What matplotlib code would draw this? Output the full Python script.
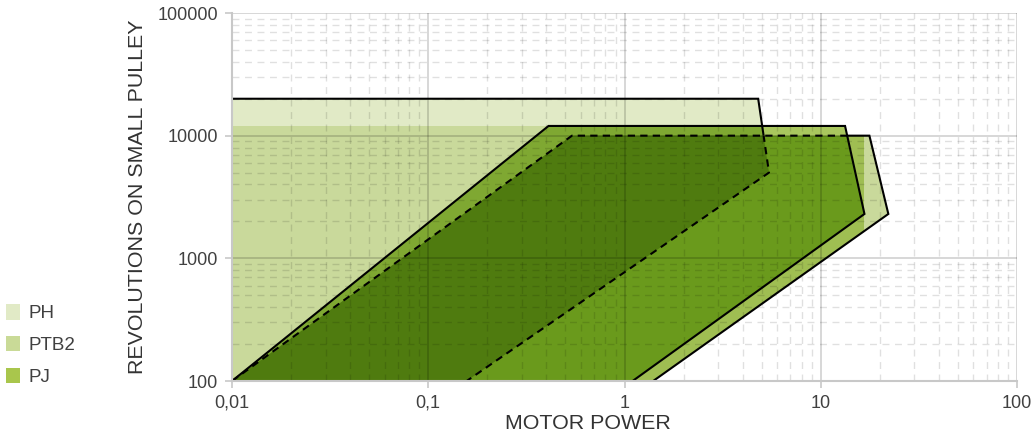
import matplotlib
matplotlib.use("Agg")
import matplotlib.pyplot as plt
import numpy as np
from matplotlib.patches import Polygon, Rectangle, Patch
from matplotlib.path import Path

# operating ranges (motor power, revolutions on small pulley)
ph_power = [0.01, 0.01, 4.8, 5.45, 0.157]
ph_rpm = [100, 20000, 20000, 5000, 100]
ptb2_power = [0.01, 0.54, 17.7, 22.1, 1.4]
ptb2_rpm = [100, 10000, 10000, 2300, 100]
pj_power = [0.01, 0.41, 13.3, 16.7, 1.1]
pj_rpm = [100, 12000, 12000, 2300, 100]

series = ["PH", "PTB2", "PJ"]
legend_colors = ["#e1eac6", "#c9da97", "#a9c64c"]

x_ticks = [0.01, 0.1, 1, 10, 100]
x_labels = ["0,01", "0,1", "1", "10", "100"]
y_ticks = [100, 1000, 10000, 100000]
y_labels = ["100", "1000", "10000", "100000"]

plt.rcParams["font.family"] = ["Liberation Sans", "DejaVu Sans"]

c_ph = "#e1eac6"
c_pale = "#c9d99b"
c_strip = "#9fbe52"
c_pj = "#a9c75e"
c_pj_ph = "#7fa832"
c_pj_ptb2 = "#6a9a1c"
c_dark = "#4f7b0f"


def poly(xs, ys):
    return np.column_stack([xs, ys])


def outside(xy):
    # big box with the polygon cut out (opposite winding)
    box = np.array([[1e-5, 1e-1], [1e5, 1e-1], [1e5, 1e8], [1e-5, 1e8], [1e-5, 1e-1]])
    lx, ly = np.log10(xy[:, 0]), np.log10(xy[:, 1])
    area = np.sum(lx * np.roll(ly, -1) - np.roll(lx, -1) * ly)
    p = xy if area < 0 else xy[::-1]
    p = np.vstack([p, p[:1]])
    verts = np.vstack([box, p])
    codes = ([Path.MOVETO] + [Path.LINETO] * 3 + [Path.CLOSEPOLY]
             + [Path.MOVETO] + [Path.LINETO] * (len(p) - 2) + [Path.CLOSEPOLY])
    return Path(verts, codes)


def main():
    fig = plt.figure(figsize=(10.32, 4.38), dpi=100)
    ax = fig.add_axes([232 / 1032, 1 - 381 / 438, 785 / 1032, 368 / 438])
    ax.set_xscale("log")
    ax.set_yscale("log")
    ax.set_xlim(0.01, 100)
    ax.set_ylim(100, 100000)

    ph = poly(ph_power, ph_rpm)
    ptb2 = poly(ptb2_power, ptb2_rpm)
    pj = poly(pj_power, pj_rpm)

    def fill(xy, color, clip=None):
        p = Polygon(xy, closed=True, facecolor=color, edgecolor="none", zorder=1)
        ax.add_patch(p)
        if clip is not None:
            p.set_clip_path(clip)
        return p

    bbox = Rectangle((min(pj_power), min(pj_rpm)), max(pj_power) - min(pj_power),
                     max(pj_rpm) - min(pj_rpm), transform=ax.transData)
    pj_clip = Polygon(pj, closed=True, transform=ax.transData)
    ptb2_clip = Polygon(ptb2, closed=True, transform=ax.transData)

    fill(ph, c_ph)
    fill(ph, c_pale, bbox)
    fill(ptb2, c_pale)
    fill(ptb2, c_strip, bbox)
    fill(pj, c_pj)
    fill(ph, c_pj_ph, pj_clip)
    fill(ptb2, c_pj_ptb2, pj_clip)
    fill(ph, c_dark, ptb2_clip)

    # outlines: solid where visible, dashed where behind another range
    def outline(xs, ys, cover, cover_xy):
        solid, = ax.plot(xs, ys, color="black", lw=1.5, zorder=4, solid_joinstyle="miter")
        solid.set_clip_path(outside(cover_xy), ax.transData)
        dashed, = ax.plot(xs, ys, color="black", lw=1.5, ls=(0, (3.5, 2.5)), zorder=4)
        dashed.set_clip_path(cover)

    outline(ph_power[1:], ph_rpm[1:], ptb2_clip, ptb2)
    outline(ptb2_power, ptb2_rpm, pj_clip, pj)
    ax.plot(pj_power, pj_rpm, color="black", lw=1.5, zorder=4, solid_joinstyle="miter")

    ax.grid(which="major", color="black", alpha=0.17, lw=1.3, zorder=3)
    ax.grid(which="minor", color="black", alpha=0.12, lw=1.0, ls=(0, (5, 4)), zorder=3)
    ax.set_axisbelow(False)

    ax.set_xticks(x_ticks, x_labels)
    ax.set_yticks(y_ticks, y_labels)
    ax.tick_params(which="major", length=5, width=1.2, color="#c8c8c8",
                   labelsize=13, labelcolor="#404040", pad=5)
    ax.tick_params(which="minor", length=0)
    for s in ["top", "right"]:
        ax.spines[s].set_visible(False)
    for s in ["left", "bottom"]:
        ax.spines[s].set_color("#c8c8c8")
        ax.spines[s].set_linewidth(1.5)
        ax.spines[s].set_zorder(5)

    ax.set_xlabel("MOTOR POWER", fontsize=15.4, color="#333333")
    ax.xaxis.set_label_coords((588 - 232) / 785, (381 - 414) / 368)
    ax.set_ylabel("REVOLUTIONS ON SMALL PULLEY", fontsize=15.4, color="#333333")
    ax.yaxis.set_label_coords((147 - 232) / 785, 0.5)

    handles = [Patch(facecolor=c, edgecolor="none") for c in legend_colors]
    fig.legend(handles, series, loc="center left", bbox_to_anchor=(0.0, 1 - 345 / 438),
               frameon=False, fontsize=13.5, handlelength=0.75, handleheight=0.9,
               handletextpad=0.45, labelspacing=0.72, borderpad=0, borderaxespad=0.3,
               labelcolor="#404040")

    fig.savefig("out.png", dpi=100)


if __name__ == "__main__":
    main()
